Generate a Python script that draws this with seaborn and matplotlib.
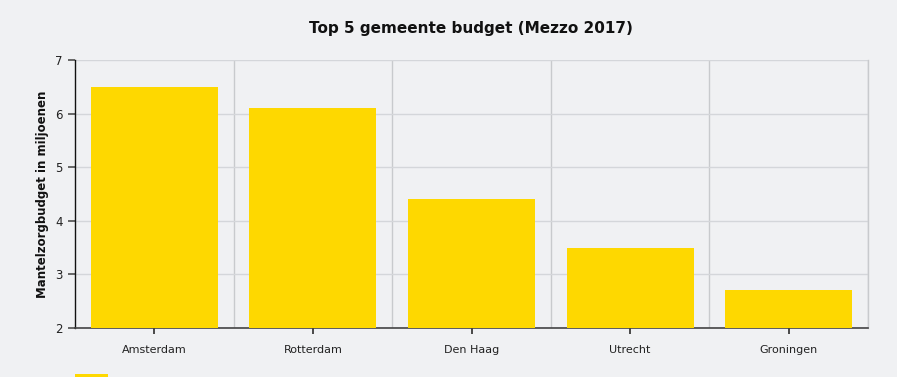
import matplotlib
matplotlib.use("Agg")
import matplotlib.pyplot as plt
import seaborn as sns
import pandas as pd
from matplotlib.patches import Rectangle

# Data
gemeenten = ["Amsterdam", "Rotterdam", "Den Haag", "Utrecht", "Groningen"]
budget = [6.5, 6.1, 4.4, 3.5, 2.7]

BG = "#f0f1f3"
YELLOW = "#fed800"

df = pd.DataFrame({"gemeente": gemeenten, "budget": budget})

sns.set_theme(style="white")
plt.rcParams["font.family"] = ["DejaVu Sans"]

fig = plt.figure(figsize=(8.97, 3.77), dpi=100, facecolor=BG)
ax = fig.add_axes([0.0836, 0.130, 0.8841, 0.7108])
ax.set_facecolor(BG)

sns.barplot(data=df, x="gemeente", y="budget", color=YELLOW, saturation=1,
            width=0.8, ax=ax, zorder=3)
for p in ax.patches:
    p.set_edgecolor("none")

ax.set_ylim(2, 7)
ax.set_xlim(-0.5, len(gemeenten) - 0.5)
ax.set_yticks(range(2, 8))
ax.set_xticks(range(len(gemeenten)))
ax.set_xticks([i + 0.5 for i in range(len(gemeenten))], minor=True)

# grid lines
ax.grid(axis="y", which="major", color="#d4d6da", linewidth=1, zorder=0)
ax.grid(axis="x", which="minor", color="#c8cacd", linewidth=1, zorder=0)
ax.set_axisbelow(True)

ax.spines["top"].set_visible(False)
ax.spines["right"].set_color("#c8cacd")
ax.spines["right"].set_linewidth(1)
ax.spines["left"].set_color("#111111")
ax.spines["left"].set_linewidth(1)
ax.spines["bottom"].set_color("#444444")
ax.spines["bottom"].set_linewidth(1.2)

ax.tick_params(axis="y", which="major", left=True, length=5, color="#555555",
               labelsize=8.5, labelcolor="#222222", pad=4)
ax.tick_params(axis="x", which="major", bottom=True, length=4, color="#333333",
               labelsize=8, labelcolor="#222222", pad=8)
ax.tick_params(axis="x", which="minor", bottom=False, length=0)

ax.set_xlabel("")
ax.set_ylabel("Mantelzorgbudget in miljoenen", fontsize=8.5, fontweight="bold",
              color="#111111", labelpad=4)

fig.text(0.525, 0.925, "Top 5 gemeente budget (Mezzo 2017)", ha="center",
         va="center", fontsize=11, fontweight="bold", color="#111111")

# legend stub at bottom edge
fig.patches.append(Rectangle((75 / 897, 0), 33 / 897, 3 / 377,
                             transform=fig.transFigure, facecolor=YELLOW,
                             edgecolor="none"))

fig.savefig("out.png", dpi=100, facecolor=BG)
